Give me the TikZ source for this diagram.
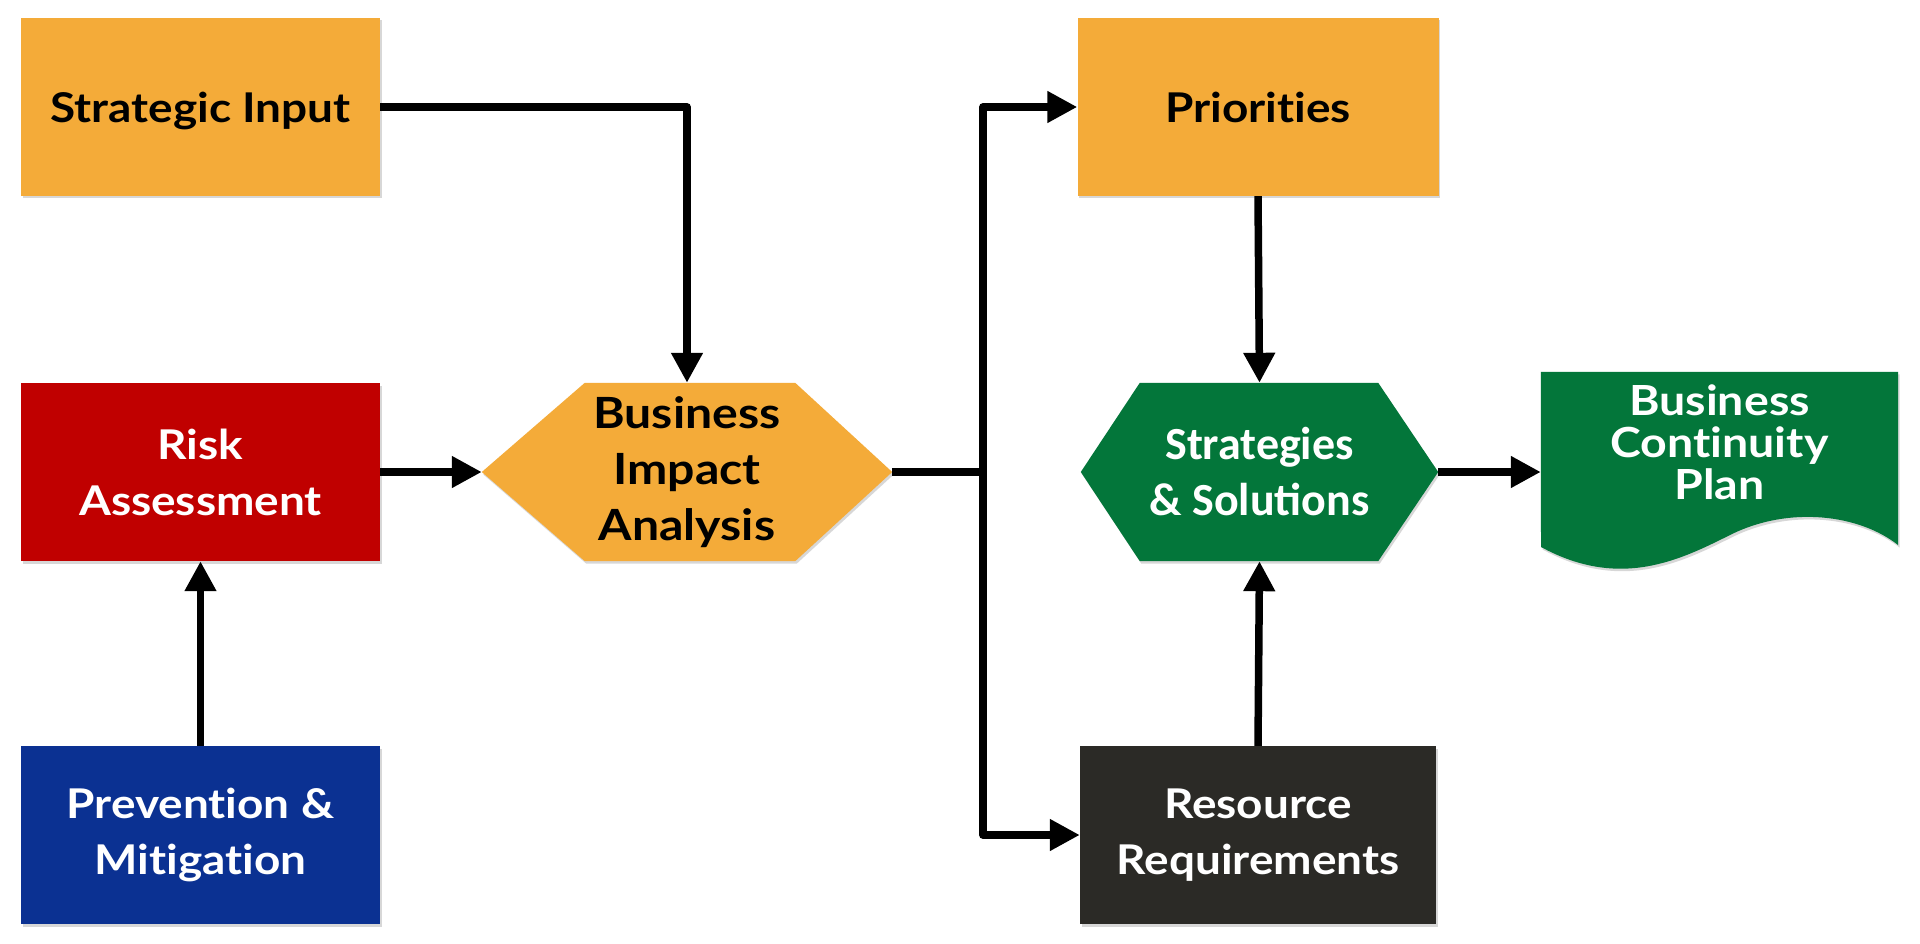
\documentclass[tikz,border=0pt]{standalone}
\usepackage{fontspec}
\setmainfont{Lato}[Ligatures=NoCommon, FakeStretch=1.12]
\newfontfamily\carl{Carlito}
\usetikzlibrary{arrows.meta,shadows,backgrounds,calc}
\definecolor{bOrange}{HTML}{F4AB39}
\definecolor{bRed}{HTML}{C00000}
\definecolor{bBlue}{HTML}{0B3192}
\definecolor{bGreen}{HTML}{03763A}
\definecolor{bDark}{HTML}{2B2A26}
\tikzset{
  shd/.style={drop shadow={opacity=0.22, shadow xshift=1.5pt, shadow yshift=-2.5pt, fill=black!70}},
  box/.style={rectangle, minimum width=359, minimum height=178, inner sep=0, align=center,
    font=\bfseries\fontsize{41}{56}\selectfont, shd},
  hexbox/.style={rectangle, minimum height=178, inner sep=0, align=center,
    font=\bfseries\fontsize{43}{56}\selectfont},
  conn/.style={line width=7.5pt, line join=round, line cap=butt},
  arr/.style={conn, -{Triangle[length=30pt,width=30pt]}}
}
\begin{document}
\begin{tikzpicture}[x=1pt,y=-1pt]
\useasboundingbox (0,0) rectangle (1920,944);
% boxes
\node[box, fill=bOrange, text=black] (si) at (200.5,107) {\raisebox{0pt}[\height][0pt]{Strategic Input}};
\node[box, fill=bRed, text=white] (ra) at (200.5,472) {Risk\\Assessment};
\node[box, fill=bBlue, text=white] (pm) at (200.5,835) {Prevention \&\\Mitigation};
\node[box, fill=bOrange, text=black, minimum width=361] (prio) at (1258,107) {Priorities};
\node[box, fill=bDark, text=white, minimum width=356] (rr) at (1258,835) {Resource\\Requirements};
% hexagons
\node[hexbox, minimum width=410, text=black] (bia) at (687,472) {Business\\Impact\\Analysis};
\node[hexbox, minimum width=357, text=white, font=\carl\bfseries\fontsize{46}{56}\selectfont] (ss) at (1259.5,472) {Strategies\\\& Solutions};
% document shape
\node[rectangle, minimum width=357, minimum height=176, inner sep=0] (bcp) at (1719.5,460) {};
\node[align=center, text=white, inner sep=0, font=\bfseries\fontsize{41.5}{42}\selectfont] (bcptxt) at (1719.5,442) {Business\\Continuity\\Plan};
\begin{scope}[on background layer]
  \fill[white] (0,0) rectangle (1920,944);
  \fill[bOrange, shd] (bia.west) -- ([xshift=103]bia.north west) -- ([xshift=-97]bia.north east)
    -- (bia.east) -- ([xshift=-97]bia.south east) -- ([xshift=103]bia.south west) -- cycle;
  \fill[bGreen, shd] (ss.west) -- ([xshift=59]ss.north west) -- ([xshift=-60]ss.north east)
    -- (ss.east) -- ([xshift=-60]ss.south east) -- ([xshift=59]ss.south west) -- cycle;
  \fill[bGreen, shd] (bcp.north west) -- (bcp.north east) -- (1898,545)
    .. controls (1860,515) and (1790,505) .. (1730,535)
    .. controls (1680,560) and (1620,590) .. (1541,547) -- cycle;
\end{scope}
% connectors
\coordinate (jct) at (983,472);
\draw[arr] (si.east) -| (bia.north);
\draw[arr] (ra.east) -- (bia.west);
\draw[arr] (pm.north) -- (ra.south);
\draw[conn] (bia.east) -- (jct);
\draw[arr] (jct) |- (prio.west);
\draw[arr] (jct) |- (rr.west);
\draw[arr] (prio.south) -- (ss.north);
\draw[arr] (rr.north) -- (ss.south);
\draw[arr] (ss.east) -- (ss.east -| bcp.west);
\end{tikzpicture}
\end{document}
